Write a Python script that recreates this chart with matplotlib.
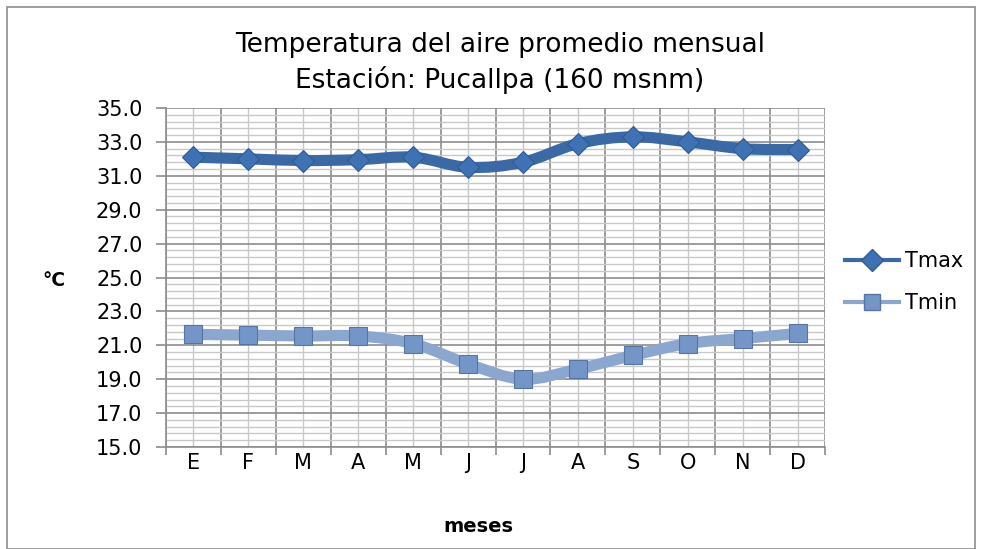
import numpy as np
import matplotlib.pyplot as plt
from matplotlib.path import Path
from matplotlib.patches import PathPatch, Rectangle
from matplotlib.lines import Line2D
from matplotlib.ticker import FixedLocator

plt.rcParams['font.family'] = ['DejaVu Sans']

months = ['E', 'F', 'M', 'A', 'M', 'J', 'J', 'A', 'S', 'O', 'N', 'D']
tmax = [32.1, 32.0, 31.9, 31.95, 32.1, 31.5, 31.8, 32.9, 33.3, 33.0, 32.6, 32.55]
tmin = [21.65, 21.6, 21.55, 21.55, 21.1, 19.9, 19.0, 19.6, 20.4, 21.1, 21.4, 21.7]

col_max = '#3B69A6'
col_min = '#8BA7D0'


def smooth_path(x, y):
    # excel-style smoothed line: cubic bezier through the points
    pts = np.column_stack([x, y]).astype(float)
    n = len(pts)
    verts = [pts[0]]
    codes = [Path.MOVETO]
    for i in range(n - 1):
        p0 = pts[max(i - 1, 0)]
        p1 = pts[i]
        p2 = pts[i + 1]
        p3 = pts[min(i + 2, n - 1)]
        c1 = p1 + (p2 - p0) / 6.0
        c2 = p2 - (p3 - p1) / 6.0
        verts += [c1, c2, p2]
        codes += [Path.CURVE4] * 3
    return Path(verts, codes)


fig = plt.figure(figsize=(9.83, 5.49), dpi=100)
ax = fig.add_axes([166 / 983, 1 - 447 / 549, (825 - 166) / 983, (447 - 108) / 549])

x = np.arange(len(months))
styles = [(tmax, col_max, 'D', 11.5, '#3F72B5', '#2F5A92'),
          (tmin, col_min, 's', 12.5, '#7495C8', '#56769F')]
for vals, col, mk, ms, fc, ec in styles:
    ax.add_patch(PathPatch(smooth_path(x, vals), facecolor='none', edgecolor=col,
                           lw=8, capstyle='round', joinstyle='round', zorder=3))
    ax.plot(x, vals, ls='none', marker=mk, ms=ms, mfc=fc, mec=ec, mew=0.8, zorder=4)

ax.set_xlim(-0.5, 11.5)
ax.set_ylim(15, 35)
yt = np.arange(15, 35.01, 2)
ax.yaxis.set_major_locator(FixedLocator(yt))
ax.yaxis.set_minor_locator(FixedLocator(np.arange(15, 35.01, 0.4)))
ax.set_yticklabels([f'{v:.1f}' for v in yt])
ax.xaxis.set_major_locator(FixedLocator(x))
ax.xaxis.set_minor_locator(FixedLocator(np.arange(-0.5, 12, 1)))
ax.set_xticklabels(months)

ax.yaxis.grid(True, which='major', color='#8C8C8C', lw=1.2)
ax.yaxis.grid(True, which='minor', color='#C8C8C8', lw=1.0)
ax.xaxis.grid(True, which='minor', color='#8C8C8C', lw=1.2)
ax.xaxis.grid(True, which='major', color='#C8C8C8', lw=1.0)
ax.set_axisbelow(True)

ax.tick_params(axis='x', which='major', length=0, labelsize=15, pad=4)
ax.tick_params(axis='x', which='minor', length=6, color='#8C8C8C', width=1.2)
ax.tick_params(axis='y', which='major', length=7, color='#8C8C8C', width=1.2,
               labelsize=15, pad=10)
ax.tick_params(axis='y', which='minor', length=0)
for s in ['top', 'right']:
    ax.spines[s].set_visible(False)
for s in ['left', 'bottom']:
    ax.spines[s].set_color('#8C8C8C')
    ax.spines[s].set_linewidth(1.2)

fig.text(500 / 983, 1 - 45 / 549, 'Temperatura del aire promedio mensual',
         ha='center', va='center', fontsize=19)
fig.text(500 / 983, 1 - 80 / 549, 'Estación: Pucallpa (160 msnm)',
         ha='center', va='center', fontsize=19)
fig.text(478 / 983, 1 - 526 / 549, 'meses', ha='center', va='center',
         fontsize=14, fontweight='bold')
fig.text(54 / 983, 1 - 281 / 549, '°C', ha='center', va='center',
         fontsize=13.5, fontweight='bold')

handles = [
    Line2D([], [], color=col_max, lw=3, marker='D', ms=11, mfc='#3F72B5', mec='#2F5A92'),
    Line2D([], [], color=col_min, lw=3, marker='s', ms=11, mfc='#7495C8', mec='#56769F'),
]
fig.legend(handles, ['Tmax', 'Tmin'], loc='center left',
           bbox_to_anchor=(826 / 983, 1 - 282 / 549), frameon=False,
           fontsize=15, handlelength=2.6, labelspacing=1.05, handletextpad=0.3)

fig.patches.append(Rectangle((7 / 983, 0), 968 / 983, 1 - 7 / 549, transform=fig.transFigure,
                             facecolor='none', edgecolor='#8C8C8C', lw=1.2))

fig.savefig('out.png', dpi=100)
